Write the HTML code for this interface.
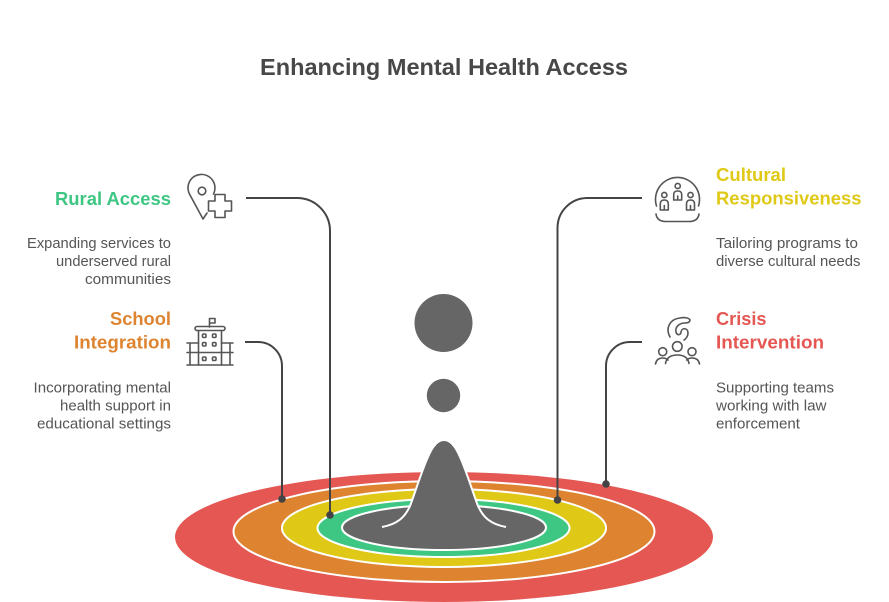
<!DOCTYPE html>
<html>
<head>
<meta charset="utf-8">
<style>
  html, body { margin: 0; padding: 0; background: #ffffff; }
  body { width: 889px; height: 602px; overflow: hidden; }
  svg { display: block; }
  .t { font-family: "Liberation Sans", Arial, sans-serif; }
  .h { font-weight: bold; font-size: 18px; }
  .d { font-size: 14.5px; fill: #555555; }
</style>
</head>
<body>
<svg width="889" height="602" viewBox="0 0 889 602" xmlns="http://www.w3.org/2000/svg">
  <!-- Title -->
  <text class="t" x="444" y="75" text-anchor="middle" font-size="23" font-weight="bold" fill="#484848" textLength="368" lengthAdjust="spacingAndGlyphs">Enhancing Mental Health Access</text>

  <!-- Concentric ellipses -->
  <ellipse cx="444" cy="537" rx="269" ry="65" fill="#e45753"/>
  <ellipse cx="444" cy="531.5" rx="210.5" ry="50.5" fill="#de8431" stroke="#ffffff" stroke-width="2"/>
  <ellipse cx="444" cy="528" rx="162" ry="39" fill="#e0c916" stroke="#ffffff" stroke-width="2"/>
  <ellipse cx="443.5" cy="528" rx="126" ry="29" fill="#3ec683" stroke="#ffffff" stroke-width="2"/>
  <ellipse cx="444" cy="527.5" rx="102" ry="22.5" fill="#666666" stroke="#ffffff" stroke-width="2"/>

  <!-- Bell peak -->
  <path d="M382,527 C398,524 405,517 410,506 C416,490 422,470 428,457 C433,445 438,440 444,440 C450,440 455,445 460,457 C466,470 472,490 478,506 C483,517 490,524 506,527 Z" fill="#666666"/>
  <path d="M382,527 C398,524 405,517 410,506 C416,490 422,470 428,457 C433,445 438,440 444,440 C450,440 455,445 460,457 C466,470 472,490 478,506 C483,517 490,524 506,527" fill="none" stroke="#ffffff" stroke-width="2"/>

  <!-- Circles above -->
  <circle cx="443.5" cy="323" r="29" fill="#666666"/>
  <circle cx="443.5" cy="395.5" r="16.7" fill="#666666"/>

  <!-- Connectors -->
  <g fill="none" stroke="#444444" stroke-width="2">
    <path d="M246,198 H297 A33,33 0 0 1 330,231 V515"/>
    <path d="M245,342 H258 A24,24 0 0 1 282,366 V499"/>
    <path d="M642,198 H587 A30,30 0 0 0 557.5,228 V500"/>
    <path d="M642,342 H630 A24,24 0 0 0 606,366 V484"/>
  </g>
  <g fill="#444444">
    <circle cx="330" cy="515" r="3.8"/>
    <circle cx="282" cy="499" r="3.8"/>
    <circle cx="557.5" cy="500" r="3.8"/>
    <circle cx="606" cy="484" r="3.8"/>
  </g>

  <!-- Left texts -->
  <text class="t h" x="171" y="205" text-anchor="end" fill="#3ec683" textLength="116" lengthAdjust="spacingAndGlyphs">Rural Access</text>
  <text class="t d" x="171" y="248" text-anchor="end" textLength="144" lengthAdjust="spacingAndGlyphs">Expanding services to</text>
  <text class="t d" x="171" y="266" text-anchor="end" textLength="115" lengthAdjust="spacingAndGlyphs">underserved rural</text>
  <text class="t d" x="171" y="284" text-anchor="end" textLength="86" lengthAdjust="spacingAndGlyphs">communities</text>

  <text class="t h" x="171" y="325" text-anchor="end" fill="#de8431" textLength="61" lengthAdjust="spacingAndGlyphs">School</text>
  <text class="t h" x="171" y="348.5" text-anchor="end" fill="#de8431" textLength="97" lengthAdjust="spacingAndGlyphs">Integration</text>
  <text class="t d" x="171" y="392.5" text-anchor="end" textLength="137.5" lengthAdjust="spacingAndGlyphs">Incorporating mental</text>
  <text class="t d" x="171" y="410.5" text-anchor="end" textLength="111" lengthAdjust="spacingAndGlyphs">health support in</text>
  <text class="t d" x="171" y="428.5" text-anchor="end" textLength="134" lengthAdjust="spacingAndGlyphs">educational settings</text>

  <!-- Right texts -->
  <text class="t h" x="716" y="181" fill="#e0c916" textLength="70" lengthAdjust="spacingAndGlyphs">Cultural</text>
  <text class="t h" x="716" y="204.5" fill="#e0c916" textLength="145.5" lengthAdjust="spacingAndGlyphs">Responsiveness</text>
  <text class="t d" x="716" y="248" textLength="142" lengthAdjust="spacingAndGlyphs">Tailoring programs to</text>
  <text class="t d" x="716" y="266" textLength="144.5" lengthAdjust="spacingAndGlyphs">diverse cultural needs</text>

  <text class="t h" x="716" y="325" fill="#e45753" textLength="50.5" lengthAdjust="spacingAndGlyphs">Crisis</text>
  <text class="t h" x="716" y="348.5" fill="#e45753" textLength="108" lengthAdjust="spacingAndGlyphs">Intervention</text>
  <text class="t d" x="716" y="392.5" textLength="118" lengthAdjust="spacingAndGlyphs">Supporting teams</text>
  <text class="t d" x="716" y="410.5" textLength="110.5" lengthAdjust="spacingAndGlyphs">working with law</text>
  <text class="t d" x="716" y="428.5" textLength="84" lengthAdjust="spacingAndGlyphs">enforcement</text>

  <!-- Icons -->
  <g fill="none" stroke="#555555" stroke-width="1.6" stroke-linejoin="round" stroke-linecap="round">
    <!-- Rural: pin + cross -->
    <path d="M213.5,194 A13.5,13.5 0 1 0 190,195 L203,219 L207,213"/>
    <circle cx="202" cy="191" r="3.8"/>
    <path d="M215,194.5 H225 V201 H231.5 V211 H225 V217.5 H215 V211 H208.5 V201 H215 Z"/>

    <!-- School building -->
    <path d="M209.5,327 V318.5 H215 V323 H209.5"/>
    <rect x="195" y="326.5" width="30" height="4" rx="2"/>
    <path d="M198.5,330.5 V365 M221.5,330.5 V365"/>
    <path d="M187,343 H198.5 M221.5,343 H233 M187,352.5 H233 M187,365 H233 M190,343 V365 M230,343 V365"/>
    <rect x="202.5" y="334" width="3.5" height="3.5" rx="1"/>
    <rect x="212.5" y="334" width="3.5" height="3.5" rx="1"/>
    <rect x="202.5" y="342.5" width="3.5" height="3.5" rx="1"/>
    <rect x="212.5" y="342.5" width="3.5" height="3.5" rx="1"/>
    <rect x="202.5" y="357" width="3.5" height="3.5" rx="1"/>
    <rect x="212.5" y="357" width="3.5" height="3.5" rx="1"/>

    <!-- Cultural: dome with people -->
    <path d="M656.5,206 A22,22 0 1 1 698.5,206"/>
    <path d="M656,214 Q657,221.5 666,221.5 H689 Q698,221.5 699,214"/>
    <circle cx="677.7" cy="186" r="2.6"/>
    <path d="M673.7,200 V194.5 Q673.7,191 677.7,191 Q681.7,191 681.7,194.5 V200 Z M677.7,196 V200"/>
    <circle cx="664.3" cy="195" r="2.6"/>
    <path d="M660.3,210 V204 Q660.3,200 664.3,200 Q668.3,200 668.3,204 V210 Z M664.3,205.5 V210"/>
    <circle cx="690.5" cy="195" r="2.6"/>
    <path d="M686.5,210 V204 Q686.5,200 690.5,200 Q694.5,200 694.5,204 V210 Z M690.5,205.5 V210"/>

    <!-- Crisis: hand + people -->
    <path d="M670,337 C665,328 670,319 680,318 C685,317 689,318 690,320 C690,322 688,323 685,323 C679,323 675,327 676,332 C677,336 681,335 681,332 C682,327 688,328 688,333 C688,336 686,339 684,340"/>
    <circle cx="677.3" cy="346.5" r="4.8"/>
    <circle cx="662.7" cy="351.7" r="4"/>
    <circle cx="692" cy="351.7" r="4"/>
    <path d="M665.5,363.5 Q667,355 677.3,355 Q687.6,355 689,363.5"/>
    <path d="M655.5,364 Q656.5,358 662.7,358 Q666,358 668,360"/>
    <path d="M699.5,364 Q698.5,358 692,358 Q688.7,358 686.7,360"/>
  </g>
</svg>
</body>
</html>
